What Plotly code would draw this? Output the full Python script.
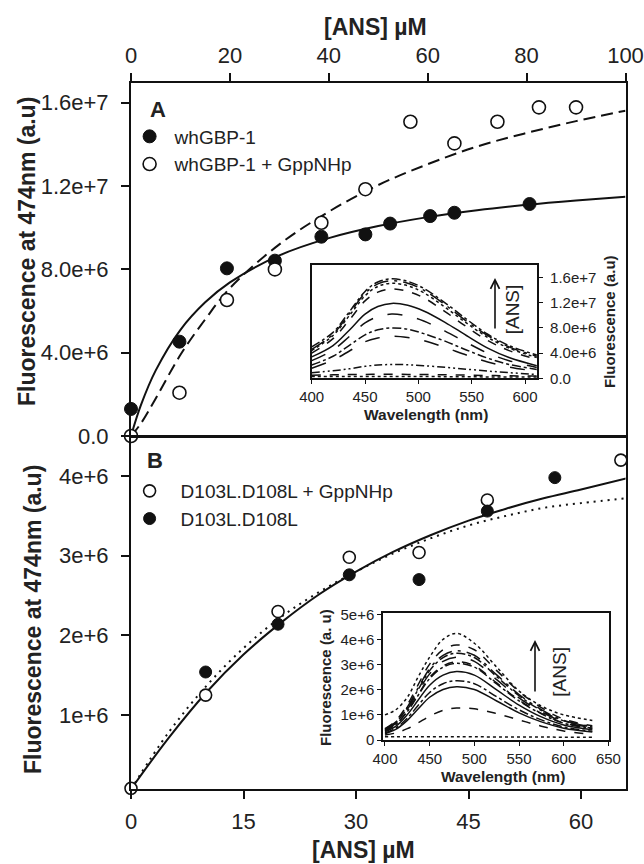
import plotly.graph_objects as go

W, H = 644, 864
FONT = "Liberation Sans, Arial, Helvetica, sans-serif"
INK = "#111111"
TXT = "#222222"

# ---------------- Panel A (whGBP-1) ----------------
A_X_FILLED = [0, 9.8, 19.4, 29.1, 38.5, 47.4, 52.4, 60.5, 65.4, 80.6]
A_Y_FILLED = [1.30, 4.53, 8.05, 8.42, 9.57, 9.68, 10.2, 10.56, 10.72, 11.14]      # x1e6
A_X_OPEN = [0, 9.8, 19.4, 29.1, 38.5, 47.4, 56.5, 65.4, 74.1, 82.5, 90.0]
A_Y_OPEN = [0.0, 2.08, 6.53, 8.0, 10.24, 11.85, 15.09, 14.05, 15.09, 15.78, 15.78]  # x1e6
A_FIT_X = [0, 2, 5, 10, 15, 20, 30, 40, 50, 60, 70, 80, 90, 100]
A_FIT_SOLID = [0.0, 1.48, 3.15, 5.1, 6.42, 7.38, 8.67, 9.5, 10.08, 10.51, 10.84, 11.1, 11.31, 11.49]
A_FIT_DASH = [0.0, 0.6, 1.8, 3.9, 5.6, 7.1, 9.2, 10.77, 12.05, 13.05, 13.9, 14.55, 15.12, 15.62]
A_XTICKS = [0, 20, 40, 60, 80, 100]
A_YTICKS = [0, 4e6, 8e6, 1.2e7, 1.6e7]
A_YTICK_TEXT = ["0.0", "4.0e+6", "8.0e+6", "1.2e+7", "1.6e+7"]

# ---------------- Panel B (D103L.D108L) ----------------
B_X_OPEN = [0, 9.95, 19.6, 29.1, 38.4, 47.5, 65.3]
B_Y_OPEN = [0.08, 1.25, 2.30, 2.98, 3.04, 3.70, 4.20]       # x1e6
B_X_FILLED = [9.95, 19.6, 29.1, 38.4, 47.5, 56.5]
B_Y_FILLED = [1.54, 2.14, 2.76, 2.70, 3.56, 3.98]           # x1e6
B_FIT_X = [0, 5, 10, 15, 20, 25, 30, 35, 40, 45, 50, 55, 60, 66]
B_FIT_SOLID = [0.07, 0.71, 1.28, 1.76, 2.16, 2.51, 2.80, 3.05, 3.26, 3.44, 3.59, 3.72, 3.83, 3.97]
B_FIT_DOT = [0.07, 0.78, 1.36, 1.84, 2.23, 2.54, 2.80, 3.03, 3.22, 3.38, 3.50, 3.60, 3.66, 3.72]
B_XTICKS = [0, 15, 30, 45, 60]
B_YTICKS = [1e6, 2e6, 3e6, 4e6]
B_YTICK_TEXT = ["1e+6", "2e+6", "3e+6", "4e+6"]

# ---------------- Inset A spectra ----------------
WL_A = [400, 420, 435, 450, 462, 475, 490, 505, 525, 545, 565, 585, 611]
SPEC_A = [
    [5.0, 7.3, 10.5, 13.8, 15.3, 15.8, 15.4, 14.3, 12.0, 9.4, 7.0, 5.2, 3.7],
    [4.6, 7.0, 10.2, 13.5, 15.0, 15.5, 15.1, 14.0, 11.7, 9.1, 6.8, 5.0, 3.5],
    [4.4, 6.8, 9.9, 13.1, 14.6, 15.1, 14.7, 13.6, 11.3, 8.8, 6.5, 4.8, 3.3],
    [4.0, 6.3, 9.2, 12.3, 13.7, 14.2, 13.8, 12.8, 10.6, 8.2, 6.0, 4.4, 3.0],
    [3.4, 5.2, 7.6, 10.2, 11.4, 11.9, 11.6, 10.7, 8.9, 6.8, 4.8, 3.3, 2.0],
    [2.8, 4.5, 6.6, 8.8, 9.8, 10.2, 9.9, 9.1, 7.5, 5.7, 4.0, 2.8, 1.7],
    [2.1, 3.5, 5.2, 6.9, 7.7, 8.0, 7.8, 7.1, 5.9, 4.5, 3.2, 2.2, 1.4],
    [1.6, 2.9, 4.3, 5.8, 6.4, 6.7, 6.5, 6.0, 4.9, 3.7, 2.6, 1.8, 1.1],
    [0.9, 1.2, 1.5, 1.9, 2.1, 2.2, 2.15, 2.0, 1.75, 1.45, 1.15, 0.9, 0.6],
    [0.5, 0.55, 0.6, 0.62, 0.63, 0.63, 0.62, 0.6, 0.55, 0.5, 0.45, 0.4, 0.35],
    [0.3, 0.3, 0.3, 0.3, 0.3, 0.3, 0.3, 0.28, 0.26, 0.24, 0.22, 0.2, 0.2],
]  # x1e6
DASH_A = ["dashdot", "longdashdot", "dot", "dash", "solid", "longdash",
          "dashdot", "longdash", "8px,3px,2px,3px,2px,3px", "dash", "dot"]
A_INSET_XTICKS = [400, 450, 500, 550, 600]
A_INSET_YTICKS = [0, 4e6, 8e6, 1.2e7, 1.6e7]
A_INSET_YTEXT = ["0.0", "4.0e+6", "8.0e+6", "1.2e+7", "1.6e+7"]

# ---------------- Inset B spectra ----------------
WL_B = [400, 412, 425, 437, 450, 465, 480, 500, 525, 550, 575, 600, 632]
SPEC_B = [
    [1.0, 1.2, 1.7, 2.5, 3.3, 4.0, 4.24, 3.85, 2.9, 1.95, 1.35, 1.0, 0.78],
    [0.45, 0.76, 1.40, 2.19, 3.02, 3.59, 3.78, 3.59, 2.76, 1.93, 1.29, 0.83, 0.57],
    [0.43, 0.71, 1.31, 2.06, 2.84, 3.37, 3.55, 3.37, 2.59, 1.81, 1.21, 0.78, 0.53],
    [0.41, 0.69, 1.28, 2.0, 2.76, 3.28, 3.45, 3.28, 2.52, 1.76, 1.17, 0.76, 0.52],
    [0.39, 0.66, 1.22, 1.91, 2.63, 3.13, 3.29, 3.13, 2.40, 1.68, 1.12, 0.72, 0.49],
    [0.37, 0.62, 1.15, 1.80, 2.49, 2.95, 3.11, 2.95, 2.27, 1.59, 1.06, 0.68, 0.47],
    [0.37, 0.61, 1.13, 1.77, 2.44, 2.90, 3.05, 2.90, 2.23, 1.56, 1.04, 0.67, 0.46],
    [0.33, 0.54, 1.01, 1.58, 2.18, 2.58, 2.72, 2.58, 1.99, 1.39, 0.92, 0.60, 0.41],
    [0.28, 0.47, 0.87, 1.37, 1.89, 2.24, 2.36, 2.24, 1.72, 1.20, 0.80, 0.52, 0.35],
    [0.25, 0.42, 0.78, 1.23, 1.70, 2.01, 2.12, 2.01, 1.55, 1.08, 0.72, 0.47, 0.32],
    [0.2, 0.28, 0.45, 0.68, 0.95, 1.18, 1.27, 1.24, 1.05, 0.8, 0.55, 0.36, 0.22],
    [0.13, 0.13, 0.13, 0.13, 0.13, 0.13, 0.13, 0.13, 0.12, 0.12, 0.12, 0.11, 0.11],
]  # x1e6
DASH_B = ["dot", "dash", "longdashdot", "dashdot", "longdash", "dash",
          "dashdot", "solid", "dashdot", "solid", "dash", "dot"]
B_INSET_XTICKS = [400, 450, 500, 550, 600, 650]
B_INSET_YTICKS = [0, 1e6, 2e6, 3e6, 4e6, 5e6]
B_INSET_YTEXT = ["0", "1e+6", "2e+6", "3e+6", "4e+6", "5e+6"]

M = 1e6


def px_x(p):
    return p / W


def px_y(p):
    return 1 - p / H


fig = go.Figure()

# Panel A fits
fig.add_trace(go.Scatter(x=A_FIT_X, y=[v * M for v in A_FIT_SOLID], mode="lines",
                         line=dict(color=INK, width=2, shape="spline"),
                         xaxis="x", yaxis="y", showlegend=False, hoverinfo="skip"))
fig.add_trace(go.Scatter(x=A_FIT_X, y=[v * M for v in A_FIT_DASH], mode="lines",
                         line=dict(color=INK, width=2, dash="12px,6px", shape="spline"),
                         xaxis="x", yaxis="y", showlegend=False, hoverinfo="skip"))
fig.add_trace(go.Scatter(x=A_X_FILLED, y=[v * M for v in A_Y_FILLED], mode="markers",
                         name="whGBP-1", legend="legend",
                         marker=dict(symbol="circle", size=13, color=INK,
                                     line=dict(color=INK, width=1)),
                         xaxis="x", yaxis="y", cliponaxis=False))
fig.add_trace(go.Scatter(x=A_X_OPEN, y=[v * M for v in A_Y_OPEN], mode="markers",
                         name="whGBP-1 + GppNHp", legend="legend",
                         marker=dict(symbol="circle", size=13, color="white",
                                     line=dict(color=INK, width=1.6)),
                         xaxis="x", yaxis="y", cliponaxis=False))

# Panel B fits
fig.add_trace(go.Scatter(x=B_FIT_X, y=[v * M for v in B_FIT_SOLID], mode="lines",
                         line=dict(color=INK, width=2, shape="spline"),
                         xaxis="x2", yaxis="y2", showlegend=False, hoverinfo="skip"))
fig.add_trace(go.Scatter(x=B_FIT_X, y=[v * M for v in B_FIT_DOT], mode="lines",
                         line=dict(color=INK, width=2, dash="2px,5px", shape="spline"),
                         xaxis="x2", yaxis="y2", showlegend=False, hoverinfo="skip"))
fig.add_trace(go.Scatter(x=B_X_OPEN, y=[v * M for v in B_Y_OPEN], mode="markers",
                         name="D103L.D108L + GppNHp", legend="legend2",
                         marker=dict(symbol="circle", size=12, color="white",
                                     line=dict(color=INK, width=1.6)),
                         xaxis="x2", yaxis="y2", cliponaxis=False))
fig.add_trace(go.Scatter(x=B_X_FILLED, y=[v * M for v in B_Y_FILLED], mode="markers",
                         name="D103L.D108L", legend="legend2",
                         marker=dict(symbol="circle", size=12, color=INK,
                                     line=dict(color=INK, width=1)),
                         xaxis="x2", yaxis="y2", cliponaxis=False))

# Inset A spectra
for spec, dash in zip(SPEC_A, DASH_A):
    fig.add_trace(go.Scatter(x=WL_A, y=[v * M for v in spec], mode="lines",
                             line=dict(color=INK, width=1.5, dash=dash, shape="spline"),
                             xaxis="x3", yaxis="y3", showlegend=False, hoverinfo="skip"))
# Inset B spectra
for spec, dash in zip(SPEC_B, DASH_B):
    fig.add_trace(go.Scatter(x=WL_B, y=[v * M for v in spec], mode="lines",
                             line=dict(color=INK, width=1.5, dash=dash, shape="spline"),
                             xaxis="x4", yaxis="y4", showlegend=False, hoverinfo="skip"))

tickfont_main = dict(family=FONT, size=22, color=TXT)
tickfont_inset = dict(family=FONT, size=15, color=TXT)
axis_common = dict(showline=True, linecolor=INK, linewidth=2, mirror=True,
                   ticks="outside", tickcolor=INK, showgrid=False, zeroline=False,
                   fixedrange=True, automargin=False)
inset_common = dict(showline=True, linecolor=INK, linewidth=1.5, mirror=True,
                    ticks="outside", tickcolor=INK, tickwidth=1.3, ticklen=4,
                    showgrid=False, zeroline=False, fixedrange=True, automargin=False)

XDOM = [px_x(131), px_x(625.5)]

fig.update_layout(
    width=W, height=H, autosize=False,
    margin=dict(l=0, r=0, t=0, b=0, pad=0),
    paper_bgcolor="white", plot_bgcolor="white",
    font=dict(family=FONT, color=TXT),
    xaxis=dict(domain=XDOM, range=[0, 100], side="top", anchor="y",
               tickvals=A_XTICKS, ticklen=8, tickwidth=1.8, tickfont=tickfont_main,
               ticklabelstandoff=1, **axis_common),
    yaxis=dict(domain=[px_y(436), px_y(83)], range=[0, 1.695e7], anchor="x",
               tickvals=A_YTICKS, ticktext=A_YTICK_TEXT, ticklen=8, tickwidth=1.8,
               tickfont=tickfont_main, ticklabelstandoff=8, **axis_common),
    xaxis2=dict(domain=XDOM, range=[0, 65.92], anchor="y2",
                tickvals=B_XTICKS, ticklen=8, tickwidth=1.8, tickfont=tickfont_main,
                ticklabelstandoff=4, **axis_common),
    yaxis2=dict(domain=[px_y(789), px_y(437)], range=[0.0715e6, 4.49e6], anchor="x2",
                tickvals=B_YTICKS, ticktext=B_YTICK_TEXT, ticklen=8, tickwidth=1.8,
                tickfont=tickfont_main, ticklabelstandoff=8, **axis_common),
    xaxis3=dict(domain=[px_x(311.7), px_x(537.3)], range=[400, 611.5], anchor="y3",
                tickvals=A_INSET_XTICKS, tickfont=tickfont_inset, ticklabelstandoff=0,
                **inset_common),
    yaxis3=dict(domain=[px_y(378.3), px_y(265)], range=[0, 1.8e7], anchor="x3",
                side="right", tickvals=A_INSET_YTICKS, ticktext=A_INSET_YTEXT,
                tickfont=tickfont_inset, ticklabelstandoff=4, **inset_common),
    xaxis4=dict(domain=[px_x(383), px_x(609.3)], range=[397.8, 651], anchor="y4",
                tickvals=B_INSET_XTICKS, tickfont=tickfont_inset, ticklabelstandoff=0,
                **inset_common),
    yaxis4=dict(domain=[px_y(740), px_y(613.3)], range=[0, 5.04e6], anchor="x4",
                tickvals=B_INSET_YTICKS, ticktext=B_INSET_YTEXT,
                tickfont=tickfont_inset, ticklabelstandoff=0, **inset_common),
    legend=dict(x=px_x(124.6), y=px_y(117.5), xanchor="left", yanchor="top",
                bgcolor="rgba(0,0,0,0)", font=dict(family=FONT, size=19, color=TXT),
                tracegroupgap=0, itemwidth=40, itemclick=False, itemdoubleclick=False),
    legend2=dict(x=px_x(118.6), y=px_y(472), xanchor="left", yanchor="top",
                 bgcolor="rgba(0,0,0,0)", font=dict(family=FONT, size=19, color=TXT),
                 tracegroupgap=0, itemwidth=52, itemclick=False, itemdoubleclick=False),
)


def note(text, x, y, size, bold=False, angle=0, anchor="center"):
    fig.add_annotation(text=f"<b>{text}</b>" if bold else text,
                       x=px_x(x), y=px_y(y), xref="paper", yref="paper",
                       showarrow=False, textangle=angle, xanchor=anchor, yanchor="middle",
                       font=dict(family=FONT, size=size, color=TXT))


note("[ANS] µM", 375, 27, 23, bold=True)
note("[ANS] µM", 363, 850, 23, bold=True)
note("Fluorescence at 474nm (a.u)", 27, 252, 23, bold=True, angle=-90)
note("Fluorescence at 474nm (a.u)", 33, 620, 23, bold=True, angle=-90)
note("A", 158, 109, 22, bold=True)
note("B", 155, 460, 22, bold=True)
note("Wavelength (nm)", 425.8, 414, 15.5, bold=True)
note("Wavelength (nm)", 503, 776, 15.5, bold=True)
note("Fluorescence (a.u)", 610, 322, 15, bold=True, angle=-90)
note("Fluorescence (a. u)", 325, 678, 15, bold=True, angle=-90)
note("[ANS]", 513.3, 309, 19, angle=-90)
note("[ANS]", 560, 671.7, 19, angle=-90)

for tipx, tipy, tail in [(495, 278, 52), (535, 640, 53)]:
    fig.add_annotation(text="", x=px_x(tipx), y=px_y(tipy), xref="paper", yref="paper",
                       showarrow=True, ax=0, ay=tail, arrowhead=5, arrowsize=1.1,
                       arrowwidth=1.6, arrowcolor=INK)

fig.write_html("out.html", config={"displayModeBar": False},
               post_script="document.body.style.margin='0px';document.body.style.padding='0px';")
